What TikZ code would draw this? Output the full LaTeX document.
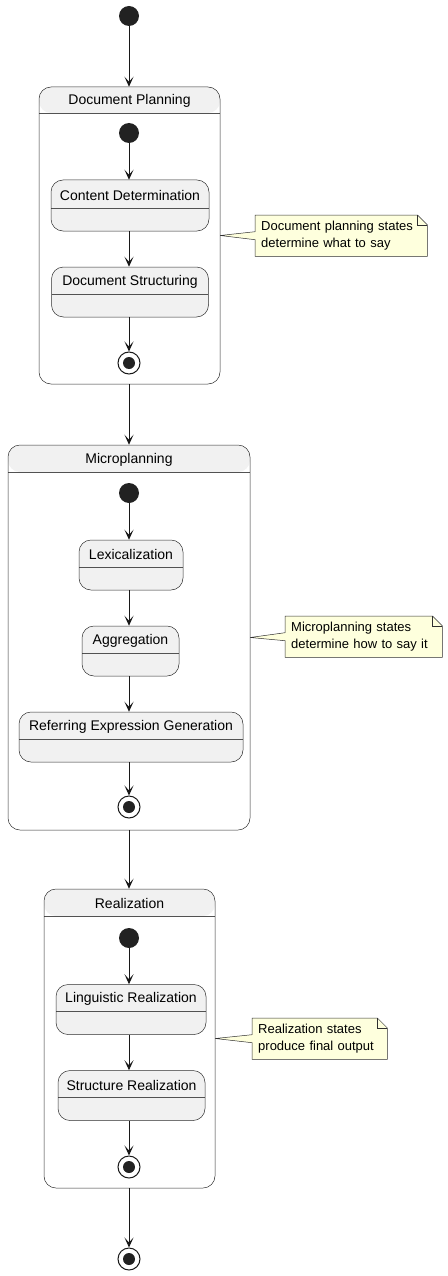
\documentclass[tikz,border=0pt]{standalone}
\usepackage{fontspec}
\setmainfont{Liberation Sans}
\usetikzlibrary{arrows.meta,backgrounds}
\definecolor{stfill}{HTML}{F1F1F1}
\definecolor{stline}{HTML}{181818}
\definecolor{notefill}{HTML}{FEFFDD}
\definecolor{dotc}{HTML}{222222}
\begin{document}
\begin{tikzpicture}[x=1pt,y=-1pt,
  every node/.style={font=\fontsize{14}{16}\selectfont, text=black},
  statebox/.style={draw=stline!90, fill=stfill, line width=0.5pt, rounded corners=12pt, inner sep=0pt},
  compbox/.style={draw=stline!90, fill=white, line width=0.5pt, rounded corners=12pt, inner sep=0pt},
  hdr/.style={path picture={\draw[stline!75, line width=0.5pt] ([yshift=-#1]path picture bounding box.north west) -- ([yshift=-#1]path picture bounding box.north east);}},
  chdr/.style={path picture={\fill[stfill] (path picture bounding box.north west) rectangle ([yshift=-#1]path picture bounding box.north east);
     \draw[stline!75, line width=0.5pt] ([yshift=-#1]path picture bounding box.north west) -- ([yshift=-#1]path picture bounding box.north east);}},
  ttl/.style={inner sep=0pt, anchor=center},
  startdot/.style={circle, fill=dotc, minimum size=20pt, inner sep=0pt},
  enddot/.style={circle, draw=stline, fill=white, line width=1pt, minimum size=22pt, inner sep=0pt,
     path picture={\fill[dotc] (path picture bounding box.center) circle (6pt);}},
  arr/.style={draw=stline, line width=1pt, -{Stealth[length=10pt,width=9pt,inset=5pt]}},
  notetext/.style={font=\fontsize{13}{17}\selectfont, align=left, inner xsep=6pt, inner ysep=0pt, text width=#1, minimum height=41pt, anchor=north west},
  noteshape/.style={draw=stline!90, fill=notefill, line width=0.5pt, line join=miter},
]
\useasboundingbox (0,0) rectangle (447,1276);

% ---------- top start ----------
\node[startdot] (s0) at (129,16) {};

% ---------- Document Planning ----------
\node[compbox, chdr=26pt, minimum width=181pt, minimum height=297pt] (dp) at (129.5,235.5) {};
\node[ttl] (dp-t) at ([yshift=-14.5pt]dp.north) {Document Planning};
\node[startdot] (dp-s) at (129,133) {};
\node[statebox, hdr=28pt, minimum width=158pt, minimum height=51pt] (cd) at (130,205.5) {};
\node[ttl] (cd-t) at ([yshift=-15.5pt]cd.north) {Content Determination};
\node[statebox, hdr=27pt, minimum width=157pt, minimum height=50pt] (ds) at (130,292) {};
\node[ttl] (ds-t) at ([yshift=-15pt]ds.north) {Document Structuring};
\node[enddot] (dp-e) at (129,363) {};

% ---------- Microplanning ----------
\node[compbox, chdr=27pt, minimum width=242pt, minimum height=385pt] (mp) at (129,637.5) {};
\node[ttl] (mp-t) at ([yshift=-15pt]mp.north) {Microplanning};
\node[startdot] (mp-s) at (129,493) {};
\node[statebox, hdr=27pt, minimum width=104pt, minimum height=50pt] (lex) at (131,565) {};
\node[ttl] (lex-t) at ([yshift=-15pt]lex.north) {Lexicalization};
\node[statebox, hdr=27pt, minimum width=97pt, minimum height=50pt] (agg) at (130.5,651) {};
\node[ttl] (agg-t) at ([yshift=-15pt]agg.north) {Aggregation};
\node[statebox, hdr=27pt, minimum width=224pt, minimum height=50pt] (reg) at (131,737) {};
\node[ttl] (reg-t) at ([yshift=-15pt]reg.north) {Referring Expression Generation};
\node[enddot] (mp-e) at (129,807) {};

% ---------- Realization ----------
\node[compbox, chdr=27pt, minimum width=171pt, minimum height=299pt] (rz) at (129.5,1038.5) {};
\node[ttl] (rz-t) at ([yshift=-15pt]rz.north) {Realization};
\node[startdot] (rz-s) at (129,938) {};
\node[statebox, hdr=27pt, minimum width=150pt, minimum height=50pt] (lr) at (131,1009.5) {};
\node[ttl] (lr-t) at ([yshift=-15pt]lr.north) {Linguistic Realization};
\node[statebox, hdr=27pt, minimum width=147pt, minimum height=50pt] (sr) at (131.5,1095.5) {};
\node[ttl] (sr-t) at ([yshift=-15pt]sr.north) {Structure Realization};
\node[enddot] (rz-e) at (129,1167) {};

% ---------- final end ----------
\node[enddot] (e0) at (129,1259) {};

% ---------- connectors ----------
\draw[arr] (s0) -- (s0 |- dp.north);
\draw[arr] (dp-s) -- (dp-s |- cd.north);
\draw[arr] (dp-s |- cd.south) -- (dp-s |- ds.north);
\draw[arr] (dp-s |- ds.south) -- (dp-e);
\draw[arr] (dp-s |- dp.south) -- (dp-s |- mp.north);
\draw[arr] (mp-s) -- (mp-s |- lex.north);
\draw[arr] (mp-s |- lex.south) -- (mp-s |- agg.north);
\draw[arr] (mp-s |- agg.south) -- (mp-s |- reg.north);
\draw[arr] (mp-s |- reg.south) -- (mp-e);
\draw[arr] (mp-s |- mp.south) -- (mp-s |- rz.north);
\draw[arr] (rz-s) -- (rz-s |- lr.north);
\draw[arr] (rz-s |- lr.south) -- (rz-s |- sr.north);
\draw[arr] (rz-s |- sr.south) -- (rz-e);
\draw[arr] (rz-s |- rz.south) -- (e0);

% ---------- notes ----------
\node[notetext=160pt] (n1) at (255,215) {Document planning states\\determine what to say};
\node[notetext=145pt] (n2) at (285,616) {Microplanning states\\determine how to say it};
\node[notetext=123pt] (n3) at (252,1018) {Realization states\\produce final output};

\begin{pgfonlayer}{background}
\foreach \n/\c in {n1/dp, n2/mp, n3/rz}{
  \path[noteshape] (\n.north west) -- ([xshift=-10pt]\n.north east) -- ([yshift=-10pt]\n.north east)
     -- (\n.south east) -- (\n.south west) -- ([yshift=-4pt]\n.west) -- (\c.east)
     -- ([yshift=4pt]\n.west) -- cycle;
  \draw[stline!90, line width=0.5pt] ([xshift=-10pt]\n.north east) -- ([xshift=-10pt,yshift=-10pt]\n.north east) -- ([yshift=-10pt]\n.north east);
}
\end{pgfonlayer}
\end{tikzpicture}
\end{document}
